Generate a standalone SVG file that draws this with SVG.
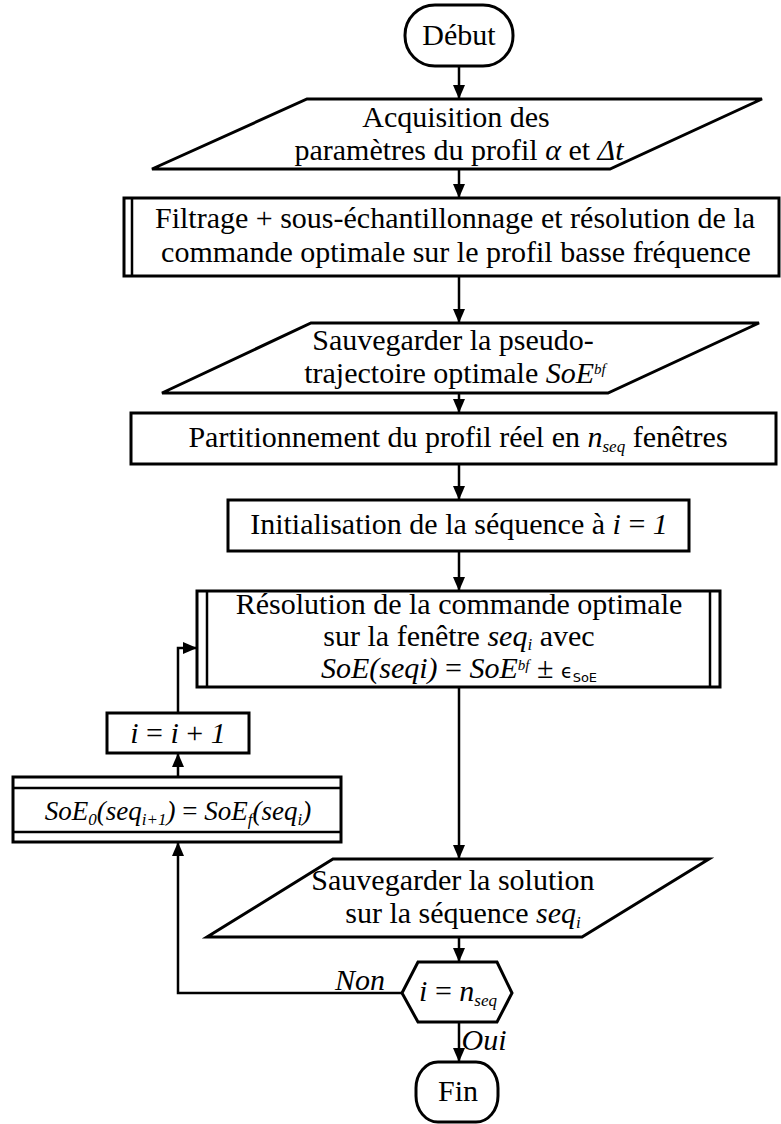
<svg xmlns="http://www.w3.org/2000/svg" width="781" height="1124" viewBox="0 0 781 1124">
<style>
.bg{fill:#fff}
.n{fill:#fff;stroke:#000;stroke-width:3}
.ln{fill:none;stroke:#000;stroke-width:2.5}
.c{fill:none;stroke:#000;stroke-width:2.5}
.t{font-family:"Liberation Serif",serif;font-size:30px;fill:#000;text-anchor:middle}
.i{font-style:italic}
.sb{font-size:17px}
.sp{font-size:15px}
.e{font-family:"DejaVu Sans",sans-serif;font-size:19px}
.es{font-family:"DejaVu Sans",sans-serif;font-size:13px}
</style>
<defs>
<marker id="ah" viewBox="0 0 14 12" refX="14" refY="6" markerWidth="14" markerHeight="12" markerUnits="userSpaceOnUse" orient="auto">
<path d="M0,0 L14,6 L0,12 z" fill="#000"/>
</marker>
</defs>
<rect class="bg" x="0" y="0" width="781" height="1124"/>

<g id="connectors">
<line class="c" x1="459" y1="66" x2="459" y2="99" marker-end="url(#ah)"/>
<line class="c" x1="459" y1="169" x2="459" y2="198" marker-end="url(#ah)"/>
<line class="c" x1="459" y1="276" x2="459" y2="323" marker-end="url(#ah)"/>
<line class="c" x1="459" y1="393" x2="459" y2="413" marker-end="url(#ah)"/>
<line class="c" x1="459" y1="464" x2="459" y2="500" marker-end="url(#ah)"/>
<line class="c" x1="459" y1="551" x2="459" y2="591" marker-end="url(#ah)"/>
<line class="c" x1="459" y1="687" x2="459" y2="859" marker-end="url(#ah)"/>
<line class="c" x1="459" y1="937" x2="459" y2="962" marker-end="url(#ah)"/>
<line class="c" x1="459" y1="1022" x2="459" y2="1062" marker-end="url(#ah)"/>
<polyline class="c" points="402,993 178,993 178,842" marker-end="url(#ah)"/>
<line class="c" x1="178" y1="777" x2="178" y2="753" marker-end="url(#ah)"/>
<polyline class="c" points="178,713 178,648 197,648" marker-end="url(#ah)"/>
</g>

<g id="debut">
<rect class="n" x="405" y="5" width="108" height="61" rx="30" ry="30"/>
<text class="t" x="459" y="45">Début</text>
</g>

<g id="acquisition">
<polygon class="n" points="307,99 762,99 610,169 152,169"/>
<text class="t" x="456" y="127">Acquisition des</text>
<text class="t" x="459" y="160">paramètres du profil <tspan class="i">α</tspan> et <tspan class="i">Δt</tspan></text>
</g>

<g id="filtrage">
<rect class="n" x="124" y="198" width="655" height="78"/>
<line class="ln" x1="132" y1="198" x2="132" y2="276"/>
<text class="t" x="455" y="228">Filtrage + sous-échantillonnage et résolution de la</text>
<text class="t" x="456" y="262">commande optimale sur le profil basse fréquence</text>
</g>

<g id="sauvegarder-pseudo">
<polygon class="n" points="311,323 759,323 608,393 162,393"/>
<text class="t" x="453" y="350">Sauvegarder la pseudo-</text>
<text class="t" x="455" y="383">trajectoire optimale <tspan class="i">SoE</tspan><tspan class="i sp" dy="-9">bf</tspan></text>
</g>

<g id="partitionnement">
<rect class="n" x="131" y="413" width="645" height="51"/>
<text class="t" x="458" y="447">Partitionnement du profil réel en <tspan class="i">n</tspan><tspan class="i sb" dy="5">seq</tspan><tspan dy="-5"> fenêtres</tspan></text>
</g>

<g id="initialisation">
<rect class="n" x="228" y="500" width="461" height="51"/>
<text class="t" x="459" y="534">Initialisation de la séquence à <tspan class="i">i</tspan> = <tspan class="i">1</tspan></text>
</g>

<g id="resolution">
<rect class="n" x="197" y="591" width="523" height="96"/>
<line class="ln" x1="207" y1="591" x2="207" y2="687"/>
<line class="ln" x1="710" y1="591" x2="710" y2="687"/>
<text class="t" x="459" y="614">Résolution de la commande optimale</text>
<text class="t" x="459" y="646">sur la fenêtre <tspan class="i">seq</tspan><tspan class="i sb" dy="4">i</tspan><tspan dy="-4"> avec</tspan></text>
<text class="t" x="459" y="678"><tspan class="i">SoE(seqi)</tspan> = <tspan class="i">SoE</tspan><tspan class="i sp" dy="-8">bf</tspan><tspan dy="8"> ± </tspan><tspan class="e">ϵ</tspan><tspan class="es" dy="4">SoE</tspan></text>
</g>

<g id="increment">
<rect class="n" x="107" y="713" width="142" height="40"/>
<text class="t" x="178" y="743"><tspan class="i">i</tspan> = <tspan class="i">i</tspan> + <tspan class="i">1</tspan></text>
</g>

<g id="soe-transfer">
<rect class="n" x="13" y="777" width="328" height="65"/>
<line class="ln" x1="13" y1="788" x2="341" y2="788"/>
<line class="ln" x1="13" y1="832" x2="341" y2="832"/>
<text class="t" x="178" y="820" style="font-size:27px"><tspan class="i">SoE</tspan><tspan class="i sb" dy="5">0</tspan><tspan class="i" dy="-5">(seq</tspan><tspan class="i sb" dy="5">i+1</tspan><tspan class="i" dy="-5">)</tspan> = <tspan class="i">SoE</tspan><tspan class="i sb" dy="5">f</tspan><tspan class="i" dy="-5">(seq</tspan><tspan class="i sb" dy="5">i</tspan><tspan class="i" dy="-5">)</tspan></text>
</g>

<g id="sauvegarder-solution">
<polygon class="n" points="333,859 709,859 582,937 207,937"/>
<text class="t" x="453" y="890">Sauvegarder la solution</text>
<text class="t" x="463" y="923">sur la séquence <tspan class="i">seq</tspan><tspan class="i sb" dy="5">i</tspan></text>
</g>

<g id="decision">
<polygon class="n" points="402,993 418,962 497,962 512,993 497,1022 418,1022"/>
<text class="t" x="458" y="1001"><tspan class="i">i</tspan> = <tspan class="i">n</tspan><tspan class="i sb" dy="5">seq</tspan></text>
<text class="t i" x="360" y="990">Non</text>
<text class="t i" x="484" y="1050">Oui</text>
</g>

<g id="fin">
<rect class="n" x="416" y="1062" width="82" height="60" rx="22" ry="26"/>
<text class="t" x="458" y="1101">Fin</text>
</g>
</svg>
